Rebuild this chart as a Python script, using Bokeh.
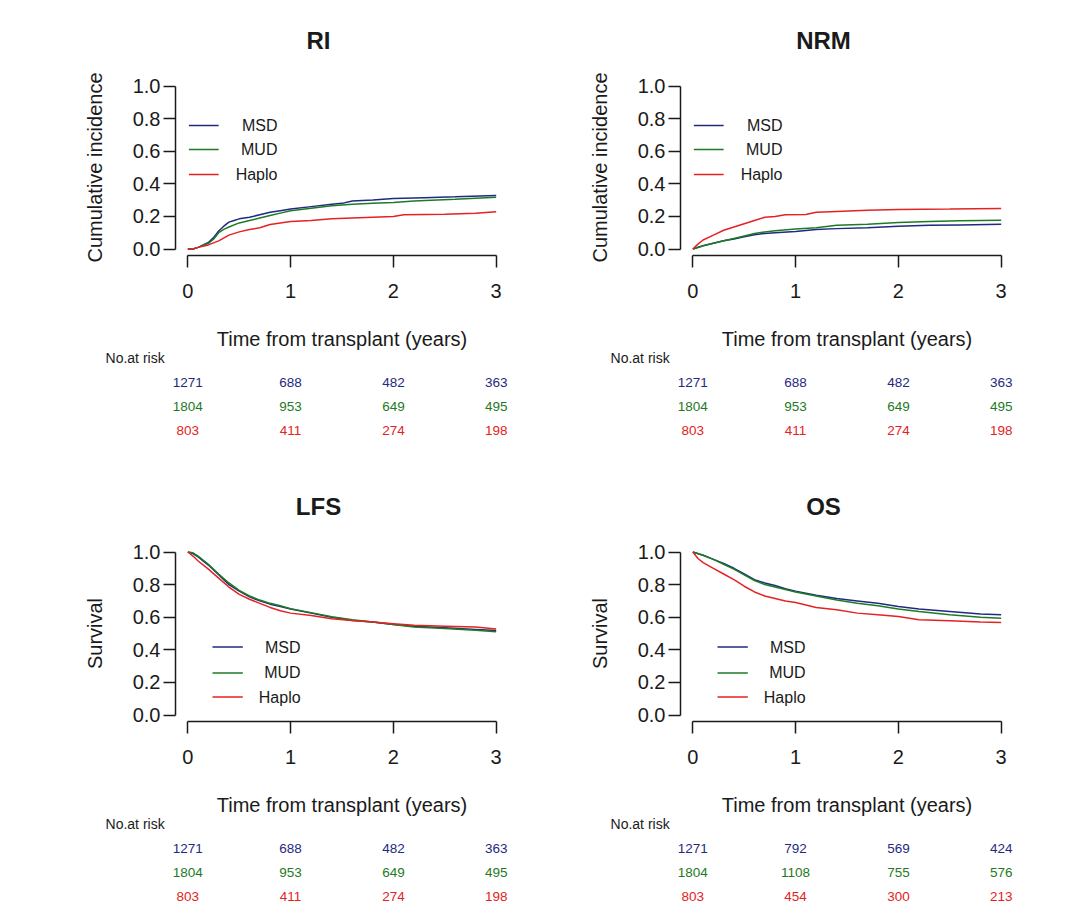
import math
from bokeh.plotting import figure
from bokeh.layouts import row, column
from bokeh.models import Range1d, FixedTicker, PrintfTickFormatter, LinearAxis
from bokeh.core.properties import value
from bokeh.embed import file_html
from bokeh.resources import INLINE

FONT = "Liberation Sans"
INK = "#1a1a1a"
GROUPS = ["MSD", "MUD", "Haplo"]
COLORS = {"MSD": "#1f2a80", "MUD": "#1e7a24", "Haplo": "#e52222"}

X_TICKS = [0, 1, 2, 3]
Y_TICKS = [0.0, 0.2, 0.4, 0.6, 0.8, 1.0]
RISK_TIMES = [0, 1, 2, 3]

# ---------------- RI ----------------
ri_msd_t = [0, 0.05, 0.1, 0.2, 0.25, 0.3, 0.35, 0.4, 0.45, 0.5, 0.6, 0.7, 0.8, 0.9, 1.0, 1.2, 1.4, 1.5, 1.6, 1.8, 2.0, 2.3, 2.6, 3.0]
ri_msd = [0, 0, 0.01, 0.04, 0.07, 0.11, 0.14, 0.165, 0.175, 0.185, 0.195, 0.21, 0.225, 0.235, 0.245, 0.26, 0.275, 0.28, 0.295, 0.30, 0.31, 0.315, 0.32, 0.328]
ri_mud_t = [0, 0.05, 0.1, 0.2, 0.25, 0.3, 0.35, 0.4, 0.5, 0.6, 0.7, 0.8, 0.9, 1.0, 1.2, 1.4, 1.6, 1.8, 2.0, 2.2, 2.6, 3.0]
ri_mud = [0, 0, 0.01, 0.035, 0.06, 0.10, 0.12, 0.135, 0.16, 0.175, 0.19, 0.205, 0.22, 0.235, 0.25, 0.265, 0.275, 0.28, 0.285, 0.295, 0.305, 0.318]
ri_hap_t = [0, 0.05, 0.1, 0.2, 0.3, 0.4, 0.5, 0.6, 0.7, 0.8, 0.9, 1.0, 1.2, 1.4, 1.6, 1.8, 2.0, 2.1, 2.5, 2.8, 3.0]
ri_hap = [0, 0, 0.01, 0.025, 0.05, 0.085, 0.105, 0.12, 0.13, 0.15, 0.16, 0.168, 0.175, 0.185, 0.19, 0.195, 0.20, 0.21, 0.213, 0.22, 0.228]

# ---------------- NRM ----------------
nrm_msd_t = [0, 0.1, 0.2, 0.3, 0.4, 0.5, 0.6, 0.7, 0.8, 1.0, 1.2, 1.4, 1.7, 2.0, 2.3, 2.6, 3.0]
nrm_msd = [0, 0.02, 0.035, 0.05, 0.062, 0.075, 0.088, 0.095, 0.10, 0.108, 0.12, 0.125, 0.13, 0.14, 0.145, 0.148, 0.152]
nrm_mud_t = [0, 0.1, 0.2, 0.3, 0.4, 0.5, 0.6, 0.7, 0.8, 1.0, 1.2, 1.4, 1.7, 2.0, 2.3, 2.6, 3.0]
nrm_mud = [0, 0.02, 0.035, 0.05, 0.065, 0.08, 0.095, 0.105, 0.112, 0.122, 0.13, 0.145, 0.152, 0.163, 0.168, 0.173, 0.176]
nrm_hap_t = [0, 0.05, 0.1, 0.2, 0.3, 0.4, 0.5, 0.6, 0.7, 0.8, 0.9, 1.1, 1.2, 1.4, 1.7, 2.0, 2.5, 3.0]
nrm_hap = [0, 0.03, 0.055, 0.085, 0.115, 0.135, 0.155, 0.175, 0.195, 0.20, 0.21, 0.212, 0.225, 0.23, 0.237, 0.243, 0.245, 0.248]

# ---------------- LFS ----------------
lfs_msd_t = [0, 0.05, 0.1, 0.2, 0.3, 0.4, 0.5, 0.6, 0.7, 0.8, 0.9, 1.0, 1.2, 1.4, 1.6, 1.8, 2.0, 2.2, 2.5, 2.8, 3.0]
lfs_msd = [1.0, 0.99, 0.97, 0.92, 0.86, 0.80, 0.76, 0.725, 0.70, 0.68, 0.665, 0.65, 0.625, 0.60, 0.58, 0.57, 0.555, 0.545, 0.535, 0.525, 0.518]
lfs_mud_t = [0, 0.05, 0.1, 0.2, 0.3, 0.4, 0.5, 0.6, 0.7, 0.8, 0.9, 1.0, 1.2, 1.4, 1.6, 1.8, 2.0, 2.2, 2.5, 2.8, 3.0]
lfs_mud = [1.0, 0.995, 0.975, 0.925, 0.865, 0.81, 0.765, 0.73, 0.705, 0.685, 0.67, 0.652, 0.628, 0.603, 0.585, 0.57, 0.555, 0.54, 0.53, 0.52, 0.51]
lfs_hap_t = [0, 0.05, 0.1, 0.2, 0.3, 0.4, 0.5, 0.6, 0.7, 0.8, 0.9, 1.0, 1.2, 1.4, 1.6, 1.8, 2.0, 2.2, 2.5, 2.8, 3.0]
lfs_hap = [1.0, 0.975, 0.945, 0.895, 0.84, 0.785, 0.74, 0.71, 0.685, 0.66, 0.64, 0.625, 0.61, 0.59, 0.58, 0.57, 0.56, 0.55, 0.545, 0.54, 0.528]

# ---------------- OS ----------------
os_msd_t = [0, 0.1, 0.2, 0.3, 0.4, 0.5, 0.6, 0.7, 0.8, 0.9, 1.0, 1.2, 1.4, 1.6, 1.8, 2.0, 2.2, 2.5, 2.8, 3.0]
os_msd = [1.0, 0.98, 0.955, 0.93, 0.90, 0.865, 0.83, 0.81, 0.795, 0.775, 0.76, 0.735, 0.715, 0.70, 0.685, 0.665, 0.65, 0.635, 0.62, 0.615]
os_mud_t = [0, 0.1, 0.2, 0.3, 0.4, 0.5, 0.6, 0.7, 0.8, 0.9, 1.0, 1.2, 1.4, 1.6, 1.8, 2.0, 2.2, 2.5, 2.8, 3.0]
os_mud = [1.0, 0.98, 0.955, 0.925, 0.895, 0.86, 0.825, 0.80, 0.785, 0.77, 0.755, 0.73, 0.705, 0.685, 0.67, 0.65, 0.635, 0.615, 0.60, 0.593]
os_hap_t = [0, 0.05, 0.1, 0.2, 0.3, 0.4, 0.5, 0.6, 0.7, 0.8, 0.9, 1.0, 1.2, 1.4, 1.6, 1.8, 2.0, 2.2, 2.5, 2.8, 3.0]
os_hap = [1.0, 0.96, 0.935, 0.90, 0.865, 0.83, 0.79, 0.755, 0.73, 0.715, 0.70, 0.69, 0.66, 0.645, 0.625, 0.615, 0.605, 0.585, 0.578, 0.57, 0.568]

# ---------------- numbers at risk ----------------
risk_msd = [1271, 688, 482, 363]
risk_mud = [1804, 953, 649, 495]
risk_hap = [803, 411, 274, 198]
os_risk_msd = [1271, 792, 569, 424]
os_risk_mud = [1804, 1108, 755, 576]
os_risk_hap = [803, 454, 300, 213]

# ---------------- layout constants (pixels) ----------------
SX = 102.78   # px per year
SY = 163.0    # px per unit of probability
X_PAD = 0.12  # axis line offset (R style, 4 % of the range)
Y_PAD = 0.04


def style_axis(ax):
    ax.axis_line_color = INK
    ax.axis_line_width = 1.5
    ax.major_tick_line_color = INK
    ax.major_tick_line_width = 1.5
    ax.major_tick_out = 12
    ax.major_tick_in = 0
    ax.minor_tick_out = 0
    ax.minor_tick_in = 0
    ax.major_label_text_font = FONT
    ax.major_label_text_font_size = "20px"
    ax.major_label_text_color = INK


def panel(title, ylabel, curves, risks, width, height, x0px, y0px, leg):
    # x0px, y0px: canvas pixel where t = 0 and probability = 0
    p = figure(width=width, height=height,
               x_range=Range1d(-x0px / SX, (width - x0px) / SX),
               y_range=Range1d(-(height - y0px) / SY, y0px / SY),
               min_border=0, x_axis_location=None, y_axis_location=None,
               output_backend="svg", toolbar_location=None)
    p.outline_line_color = None
    p.grid.visible = False
    p.background_fill_color = "white"
    p.border_fill_color = "white"

    def X(dx):  # pixels right of t = 0
        return dx / SX

    def Y(dy):  # pixels above probability 0
        return dy / SY

    xa = LinearAxis(fixed_location=-Y_PAD)
    style_axis(xa)
    xa.ticker = FixedTicker(ticks=X_TICKS)
    xa.bounds = (X_TICKS[0], X_TICKS[-1])
    xa.major_label_standoff = 16
    p.add_layout(xa, "below")

    ya = LinearAxis(fixed_location=-X_PAD)
    style_axis(ya)
    ya.ticker = FixedTicker(ticks=Y_TICKS)
    ya.bounds = (Y_TICKS[0], Y_TICKS[-1])
    ya.formatter = PrintfTickFormatter(format="%.1f")
    ya.major_label_orientation = "horizontal"
    ya.major_label_standoff = 3
    p.add_layout(ya, "left")

    txt = dict(text_font=value(FONT), text_color=INK, text_baseline="middle")

    # axis titles
    p.text(x=[1.5], y=[Y(-89.5)], text=["Time from transplant (years)"], text_align="center",
           text_font_size=value("20px"), **txt)
    p.text(x=[X(-93)], y=[0.5], text=[ylabel], text_align="center", angle=math.pi / 2,
           text_font_size=value("20px"), **txt)

    for g, (t, y) in zip(GROUPS, curves):
        p.line(t, y, line_color=COLORS[g], line_width=1.5)

    # panel title
    p.text(x=[X(130.7)], y=[Y(209)], text=[title], text_align="center",
           text_font_size=value("24px"), text_font_style="bold", **txt)

    # legend
    lx0, lx1, tx, ys = leg
    for g, yy in zip(GROUPS, ys):
        p.segment(x0=[lx0], y0=[yy], x1=[lx1], y1=[yy], line_color=COLORS[g], line_width=1.5)
        p.text(x=[tx], y=[yy], text=[g], text_align="right", text_font_size=value("16px"), **txt)

    # numbers at risk
    rows_dy = [-109, -133.5, -157.8, -181.5]
    p.text(x=[X(-82.3)], y=[Y(rows_dy[0])], text=["No.at risk"], text_align="left",
           text_font_size=value("14px"), **txt)
    for g, vals, dy in zip(GROUPS, risks, rows_dy[1:]):
        p.text(x=RISK_TIMES, y=[Y(dy)] * len(RISK_TIMES), text=[str(v) for v in vals],
               text_font=value(FONT), text_font_size=value("13.5px"), text_align="center",
               text_baseline="middle", text_color=COLORS[g])
    return p


LEG_TOP = (0.01, 0.30, 0.872, [0.758, 0.610, 0.457])
LEG_BOT = (0.24, 0.535, 1.097, [0.417, 0.258, 0.11])

c1 = panel("RI", "Cumulative incidence", [(ri_msd_t, ri_msd), (ri_mud_t, ri_mud), (ri_hap_t, ri_hap)],
           [risk_msd, risk_mud, risk_hap], 513, 445, 187.33, 248.5, LEG_TOP)
c2 = panel("NRM", "Cumulative incidence", [(nrm_msd_t, nrm_msd), (nrm_mud_t, nrm_mud), (nrm_hap_t, nrm_hap)],
           [risk_msd, risk_mud, risk_hap], 505, 445, 179.33, 248.5, LEG_TOP)
c3 = panel("LFS", "Survival", [(lfs_msd_t, lfs_msd), (lfs_mud_t, lfs_mud), (lfs_hap_t, lfs_hap)],
           [risk_msd, risk_mud, risk_hap], 513, 462, 187.33, 269.5, LEG_BOT)
c4 = panel("OS", "Survival", [(os_msd_t, os_msd), (os_mud_t, os_mud), (os_hap_t, os_hap)],
           [os_risk_msd, os_risk_mud, os_risk_hap], 505, 462, 179.33, 269.5, LEG_BOT)

layout = column(row(c1, c2), row(c3, c4))

with open("out.html", "w") as f:
    f.write(file_html(layout, INLINE))
